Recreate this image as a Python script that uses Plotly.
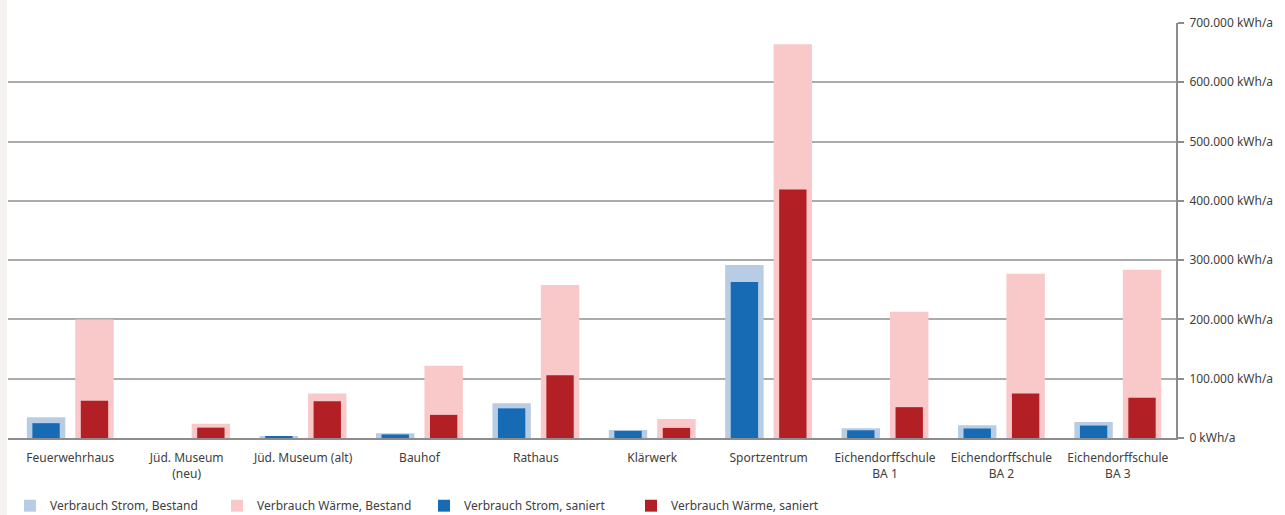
import plotly.graph_objects as go

# Buildings (category labels on the x axis)
gebaeude = [
    "Feuerwehrhaus",
    "Jüd. Museum<br>(neu)",
    "Jüd. Museum (alt)",
    "Bauhof",
    "Rathaus",
    "Klärwerk",
    "Sportzentrum",
    "Eichendorffschule<br>BA 1",
    "Eichendorffschule<br>BA 2",
    "Eichendorffschule<br>BA 3",
]

# Annual consumption in kWh/a
strom_bestand = [35000, 0, 3500, 8000, 58500, 13500, 292000, 16500, 21500, 27000]
waerme_bestand = [200000, 24000, 75000, 122000, 258000, 32000, 664000, 213000, 277000, 284000]
strom_saniert = [25000, 0, 2000, 6000, 50000, 12000, 263000, 13000, 16000, 21000]
waerme_saniert = [63000, 17500, 62000, 39000, 106000, 17000, 419000, 52000, 75000, 68000]

y_ticks = [0, 100000, 200000, 300000, 400000, 500000, 600000, 700000]
y_ticklabels = ["0 kWh/a", "100.000 kWh/a", "200.000 kWh/a", "300.000 kWh/a",
                "400.000 kWh/a", "500.000 kWh/a", "600.000 kWh/a", "700.000 kWh/a"]

x = list(range(len(gebaeude)))

# wide light bars = current state, narrow dark bars = after renovation
W_WIDE, W_NARROW, SHIFT = 0.33, 0.235, 0.208

fig = go.Figure()
fig.add_bar(x=x, y=strom_bestand, name="Verbrauch Strom, Bestand",
            marker=dict(color="#b8cce4", line=dict(width=0)),
            width=W_WIDE, offset=-SHIFT - W_WIDE / 2)
fig.add_bar(x=x, y=waerme_bestand, name="Verbrauch Wärme, Bestand",
            marker=dict(color="#f9c8c9", line=dict(width=0)),
            width=W_WIDE, offset=SHIFT - W_WIDE / 2)
fig.add_bar(x=x, y=strom_saniert, name="Verbrauch Strom, saniert",
            marker=dict(color="#176ab4", line=dict(width=0)),
            width=W_NARROW, offset=-SHIFT - W_NARROW / 2)
fig.add_bar(x=x, y=waerme_saniert, name="Verbrauch Wärme, saniert",
            marker=dict(color="#b21f24", line=dict(width=0)),
            width=W_NARROW, offset=SHIFT - W_NARROW / 2)

fig.update_layout(
    width=1285, height=515,
    barmode="overlay",
    paper_bgcolor="white",
    plot_bgcolor="white",
    margin=dict(l=8, r=109, t=23, b=77, autoexpand=False),
    font=dict(family="Noto Sans", size=12, color="#404040"),
    showlegend=True,
    legend=dict(
        orientation="h", x=2 / 1168, xanchor="left",
        y=-0.163, yanchor="middle",
        font=dict(size=12, color="#404040"),
        entrywidth=162, itemwidth=30, traceorder="normal",
        bgcolor="rgba(0,0,0,0)",
    ),
    xaxis=dict(
        range=[-0.535, 9.5],
        tickmode="array", tickvals=x, ticktext=gebaeude,
        showgrid=False, zeroline=False,
        showline=True, linecolor="#8c8c8c", linewidth=2,
        ticks="", ticklabelstandoff=8,
        tickfont=dict(size=12, color="#404040"),
        automargin=False,
    ),
    yaxis=dict(
        side="right", range=[0, 700000],
        tickmode="array", tickvals=y_ticks, ticktext=y_ticklabels,
        showgrid=True, gridcolor="#ababab", gridwidth=1.5,
        zeroline=False,
        showline=True, linecolor="#8c8c8c", linewidth=2,
        ticks="outside", ticklen=6, tickcolor="#8c8c8c", tickwidth=1.5,
        ticklabelstandoff=3,
        tickfont=dict(size=12, color="#404040"),
        automargin=False,
    ),
    shapes=[
        dict(type="rect", xref="paper", yref="paper",
             x0=-8 / 1168, x1=-1 / 1168, y0=-0.3, y1=1.1,
             fillcolor="#f4f3f1", line=dict(width=0), layer="below"),
    ],
)

fig.write_html("out.html")
